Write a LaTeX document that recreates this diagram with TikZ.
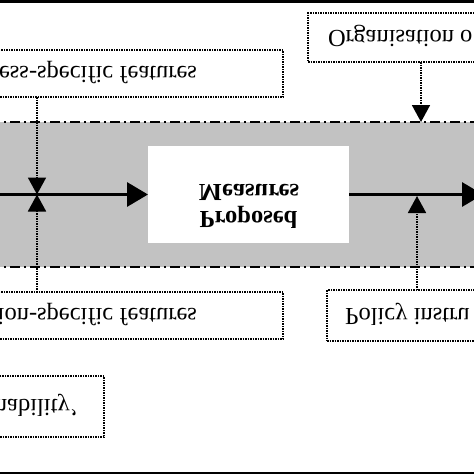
\documentclass[tikz,border=0pt]{standalone}
\usepackage{fontspec}
\setmainfont{Liberation Serif}
\usetikzlibrary{arrows.meta}
\definecolor{bandgrey}{RGB}{194,194,194}
\begin{document}
\begin{tikzpicture}[x=1pt,y=1pt,yscale=-1,
  every node/.style={inner sep=0pt, outer sep=0pt},
  txt/.style={transform shape, font=\fontsize{24.5}{28}\selectfont},
  boldtxt/.style={transform shape, font=\fontsize{24.5}{28}\selectfont\bfseries},
  dotbox/.style={draw, line width=1.8pt, dash pattern=on 1.5pt off 1pt},
  dotline/.style={line width=1.8pt, dash pattern=on 1.5pt off 1pt},
  bigarrow/.style={line width=3.2pt, -{Triangle[length=21pt,width=24pt]}},
  smallhead/.style={-{Triangle[length=17pt,width=18pt]}},
  bandline/.style={line width=2.2pt, dash pattern=on 10pt off 4pt on 2pt off 4pt}
]
\useasboundingbox (0,0) rectangle (474,474);
\clip (0,0) rectangle (474,474);
% frame bars
\fill[black] (0,0) rectangle (474,3.3);
\fill[black] (0,471.7) rectangle (474,474);
% grey band
\fill[bandgrey] (-10,122) rectangle (484,267);
\draw[bandline] (-10,122) -- (484,122);
\draw[bandline] (-10,267) -- (484,267);
% boxes
\node[dotbox, minimum width=303pt, minimum height=47pt] (proc) at (131.5,73.5) {};
\node[dotbox, minimum width=303pt, minimum height=47pt] (reg) at (131.5,315.5) {};
\node[dotbox, minimum width=186pt, minimum height=49pt] (org) at (401,37.5) {};
\node[dotbox, minimum width=167pt, minimum height=51pt] (pol) at (410.5,315.5) {};
\node[dotbox, minimum width=124pt, minimum height=61pt] (sus) at (42,406.5) {};
\node[fill=white, minimum width=201pt, minimum height=97pt] (meas) at (248.5,194.5) {};
% texts
\node[txt, anchor=base east] (proctxt) at (197,66) {ess-specific features};
\node[txt, anchor=base east] (regtxt) at (197,308) {ion-specific features};
\node[txt, anchor=base east] (sustxt) at (78,399) {nability'};
\node[txt, anchor=base west] (orgtxt) at (328,30) {Organisation o};
\node[txt, anchor=base west] (poltxt) at (345,308) {Policy instru};
\node[boldtxt, anchor=base] (m1) at (249,184) {Measures};
\node[boldtxt, anchor=base] (m2) at (248.5,211.7) {Proposed};
% connectors
\coordinate (lin) at (-5,194.5);
\coordinate (rout) at (483,194.5);
\coordinate (bowtie) at (37,194.5);
\coordinate (orgtip) at (421,122);
\coordinate (poltip) at (417,196);
\draw[bigarrow] (lin) -- (meas.west);
\draw[bigarrow] (meas.east) -- (rout);
\draw[dotline, smallhead] (proc.south -| bowtie) -- (bowtie);
\draw[dotline, smallhead] (reg.north -| bowtie) -- (bowtie);
\draw[dotline, smallhead] (org.south -| orgtip) -- (orgtip);
\draw[dotline, smallhead] (pol.north -| poltip) -- (poltip);
\end{tikzpicture}
\end{document}
